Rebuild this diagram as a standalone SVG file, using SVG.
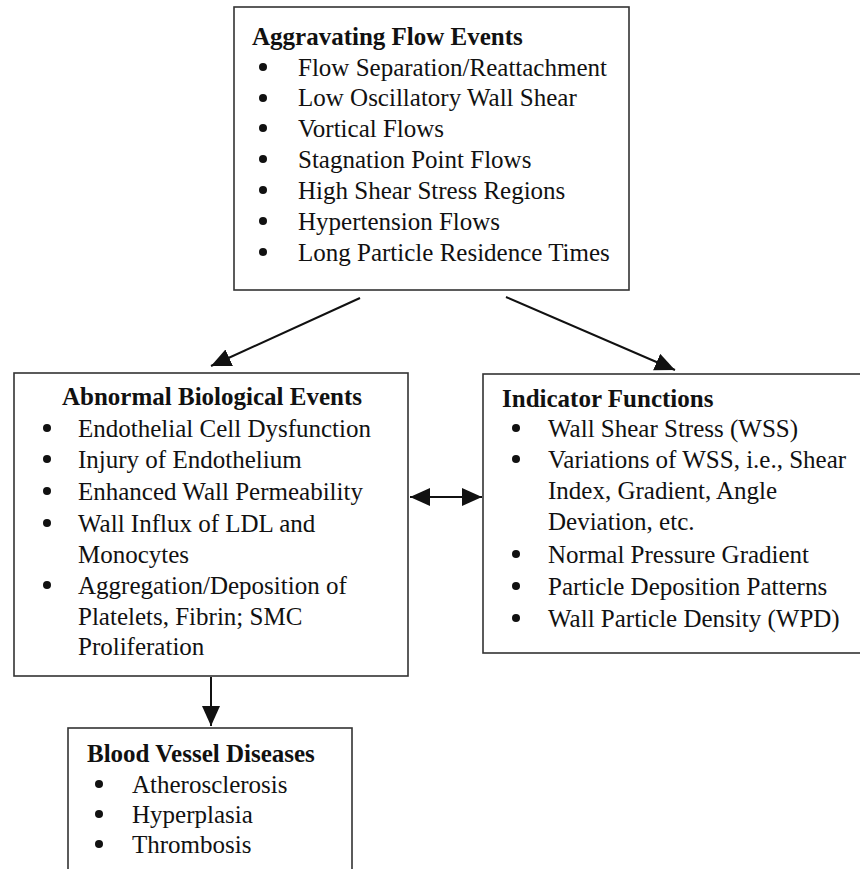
<svg xmlns="http://www.w3.org/2000/svg" width="860" height="869" viewBox="0 0 860 869">
<style>
.box{fill:#fff;stroke:#333;stroke-width:1.6}
.t{font-family:"Liberation Serif","Times New Roman",serif;font-size:25px;fill:#111}
.h{font-family:"Liberation Serif","Times New Roman",serif;font-size:25px;font-weight:bold;fill:#111}
.b{fill:#111}
.c{stroke:#111;stroke-width:2;fill:none}
</style>
<defs>
<marker id="ah" markerUnits="userSpaceOnUse" markerWidth="22" markerHeight="18" refX="20" refY="9" orient="auto-start-reverse">
<path d="M0,0 L20,9 L0,18 z" fill="#111"/>
</marker>
</defs>
<rect width="860" height="869" fill="#fff"/>
<g id="connectors">
<line class="c" x1="360" y1="298" x2="211" y2="366" marker-end="url(#ah)"/>
<line class="c" x1="506" y1="297" x2="675" y2="370" marker-end="url(#ah)"/>
<line class="c" x1="410" y1="497" x2="482" y2="497" marker-start="url(#ah)" marker-end="url(#ah)"/>
<line class="c" x1="211" y1="677" x2="211" y2="726" marker-end="url(#ah)"/>
</g>
<g id="aggravating">
<rect class="box" x="234" y="7" width="395" height="283"/>
<text class="h" x="252" y="45">Aggravating Flow Events</text>
<g class="b"><circle cx="263" cy="67" r="4"/><circle cx="263" cy="98" r="4"/><circle cx="263" cy="128" r="4"/><circle cx="263" cy="159" r="4"/><circle cx="263" cy="190" r="4"/><circle cx="263" cy="221" r="4"/><circle cx="263" cy="252" r="4"/></g>
<text class="t" x="298" y="76">Flow Separation/Reattachment</text>
<text class="t" x="298" y="106">Low Oscillatory Wall Shear</text>
<text class="t" x="298" y="137">Vortical Flows</text>
<text class="t" x="298" y="168">Stagnation Point Flows</text>
<text class="t" x="298" y="199">High Shear Stress Regions</text>
<text class="t" x="298" y="230">Hypertension Flows</text>
<text class="t" x="298" y="261">Long Particle Residence Times</text>
</g>
<g id="abnormal">
<rect class="box" x="14" y="373" width="394" height="303"/>
<text class="h" x="62" y="405">Abnormal Biological Events</text>
<g class="b"><circle cx="47" cy="428" r="4"/><circle cx="47" cy="459" r="4"/><circle cx="47" cy="491" r="4"/><circle cx="47" cy="523" r="4"/><circle cx="47" cy="585" r="4"/></g>
<text class="t" x="78" y="437">Endothelial Cell Dysfunction</text>
<text class="t" x="78" y="468">Injury of Endothelium</text>
<text class="t" x="78" y="500">Enhanced Wall Permeability</text>
<text class="t" x="78" y="532">Wall Influx of LDL and</text>
<text class="t" x="78" y="563">Monocytes</text>
<text class="t" x="78" y="594">Aggregation/Deposition of</text>
<text class="t" x="78" y="625">Platelets, Fibrin; SMC</text>
<text class="t" x="78" y="655">Proliferation</text>
</g>
<g id="indicator">
<rect class="box" x="483" y="374" width="400" height="279"/>
<text class="h" x="502" y="407">Indicator Functions</text>
<g class="b"><circle cx="516" cy="428" r="4"/><circle cx="516" cy="459" r="4"/><circle cx="516" cy="554" r="4"/><circle cx="516" cy="586" r="4"/><circle cx="516" cy="618" r="4"/></g>
<text class="t" x="548" y="437">Wall Shear Stress (WSS)</text>
<text class="t" x="548" y="468">Variations of WSS, i.e., Shear</text>
<text class="t" x="548" y="499">Index, Gradient, Angle</text>
<text class="t" x="548" y="530">Deviation, etc.</text>
<text class="t" x="548" y="563">Normal Pressure Gradient</text>
<text class="t" x="548" y="595">Particle Deposition Patterns</text>
<text class="t" x="548" y="627">Wall Particle Density (WPD)</text>
</g>
<g id="diseases">
<rect class="box" x="68" y="728" width="284" height="160"/>
<text class="h" x="87" y="762">Blood Vessel Diseases</text>
<g class="b"><circle cx="99" cy="784" r="4"/><circle cx="99" cy="814" r="4"/><circle cx="99" cy="844" r="4"/></g>
<text class="t" x="132" y="793">Atherosclerosis</text>
<text class="t" x="132" y="823">Hyperplasia</text>
<text class="t" x="132" y="853">Thrombosis</text>
</g>
</svg>
